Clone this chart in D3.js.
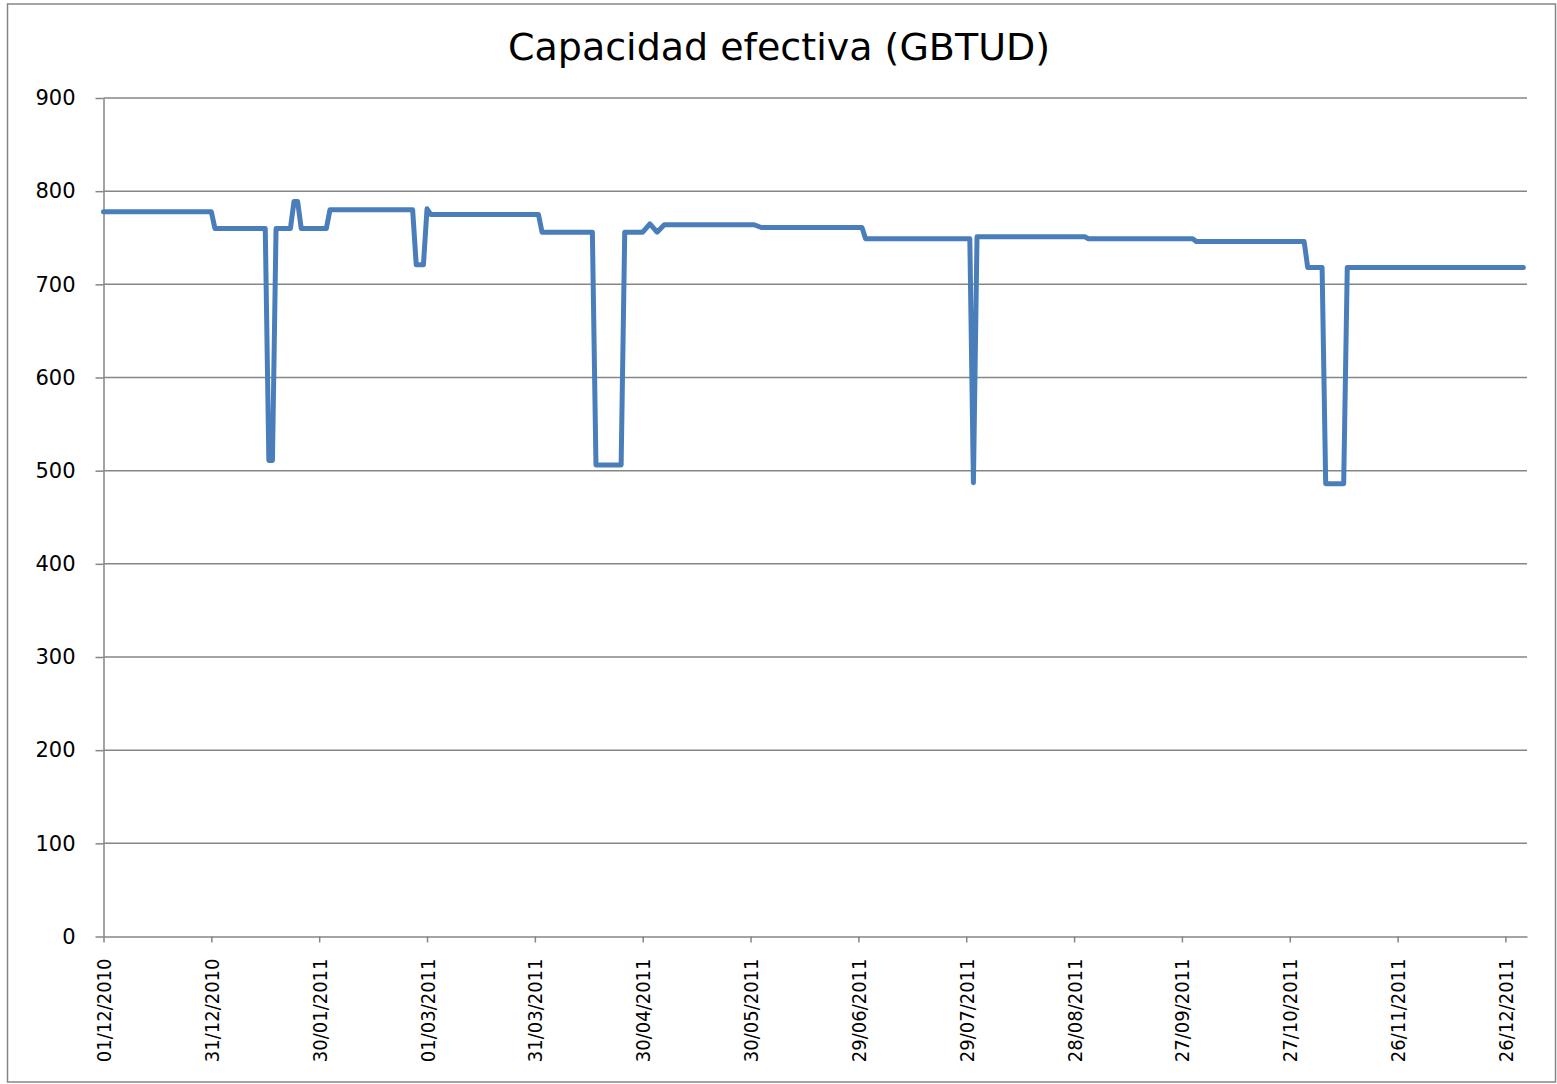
<!DOCTYPE html>
<html>
<head>
<meta charset="utf-8">
<script src="https://cdn.jsdelivr.net/npm/d3@7"></script>
<style>
  body { margin: 0; background: #fff; }
</style>
</head>
<body>
<script>
// chart size, same as the window
let width = 1557, height = 1084

// dates where the line changes (dd/mm/yyyy) and the value at each one
let dates = [
  "01/12/2010", "31/12/2010", "01/01/2011", "15/01/2011", "16/01/2011", "17/01/2011",
  "18/01/2011", "22/01/2011", "23/01/2011", "24/01/2011", "25/01/2011", "01/02/2011",
  "02/02/2011", "25/02/2011", "26/02/2011", "28/02/2011", "01/03/2011", "02/03/2011",
  "01/04/2011", "02/04/2011", "16/04/2011", "17/04/2011", "24/04/2011", "25/04/2011",
  "30/04/2011", "02/05/2011", "04/05/2011", "06/05/2011", "31/05/2011", "02/06/2011",
  "30/06/2011", "01/07/2011", "30/07/2011", "31/07/2011", "01/08/2011", "31/08/2011",
  "01/09/2011", "30/09/2011", "01/10/2011", "31/10/2011", "01/11/2011", "05/11/2011",
  "06/11/2011", "11/11/2011", "12/11/2011", "31/12/2011"
]
let values = [
  778, 778, 760, 760, 511, 511,
  760, 760, 789, 789, 760, 760,
  780, 780, 721, 721, 781, 775,
  775, 756, 756, 506, 506, 756,
  756, 765, 756, 764, 764, 761,
  761, 749, 749, 487, 751, 751,
  749, 749, 746, 746, 718, 718,
  486, 486, 718, 718
]

// x axis labels, one every 30 days
let tickLabels = [
  "01/12/2010", "31/12/2010", "30/01/2011", "01/03/2011", "31/03/2011", "30/04/2011",
  "30/05/2011", "29/06/2011", "29/07/2011", "28/08/2011", "27/09/2011", "27/10/2011",
  "26/11/2011", "26/12/2011"
]
let yTicks = [0, 100, 200, 300, 400, 500, 600, 700, 800, 900]

let parse = d3.utcParse("%d/%m/%Y")
let data = dates.map((d, i) => ({ date: parse(d), value: values[i] }))

let margin = { left: 103.5, right: 1527, top: 98, bottom: 936.5 }

let x = d3.scaleUtc()
  .domain([parse("01/12/2010"), parse("01/01/2012")])
  .range([margin.left, margin.right])

let y = d3.scaleLinear()
  .domain([0, 900])
  .range([margin.bottom, margin.top])

let svg = d3.select("body").append("svg")
  .attr("width", width)
  .attr("height", height)
  .attr("font-family", "'DejaVu Sans', Verdana, sans-serif")

// outer chart border
svg.append("rect")
  .attr("x", 7.5).attr("y", 4)
  .attr("width", 1548).attr("height", 1078)
  .attr("fill", "#fff")
  .attr("stroke", "#868686")
  .attr("stroke-width", 1.5)

// title
svg.append("text")
  .attr("x", 779)
  .attr("y", 60)
  .attr("text-anchor", "middle")
  .attr("font-size", 38)
  .attr("fill", "#000")
  .text("Capacidad efectiva (GBTUD)")

// horizontal gridlines
svg.append("g")
  .selectAll("line")
  .data(yTicks.filter(d => d > 0))
  .join("line")
  .attr("x1", margin.left).attr("x2", margin.right)
  .attr("y1", d => y(d)).attr("y2", d => y(d))
  .attr("stroke", "#868686")
  .attr("stroke-width", 1.5)

// y axis
let yAxis = svg.append("g")
  .attr("transform", `translate(${margin.left},0)`)
  .call(d3.axisLeft(y).tickValues(yTicks).tickSize(8).tickPadding(20).tickSizeOuter(0))
yAxis.select(".domain").attr("stroke", "#868686").attr("stroke-width", 1.5)
yAxis.selectAll(".tick line").attr("stroke", "#868686").attr("stroke-width", 1.5)
yAxis.selectAll("text")
  .attr("font-size", 21)
  .attr("font-family", "'DejaVu Sans', Verdana, sans-serif")
  .attr("fill", "#000")

// x axis
let xAxis = svg.append("g")
  .attr("transform", `translate(0,${margin.bottom})`)
  .call(d3.axisBottom(x)
    .tickValues(tickLabels.map(parse))
    .tickFormat(d3.utcFormat("%d/%m/%Y"))
    .tickSize(6)
    .tickSizeOuter(0))
xAxis.select(".domain").attr("stroke", "#868686").attr("stroke-width", 1.5)
xAxis.selectAll(".tick line").attr("stroke", "#868686").attr("stroke-width", 1.5)
xAxis.selectAll("text")
  .attr("font-size", 20)
  .attr("font-family", "'DejaVu Sans Condensed', 'DejaVu Sans', sans-serif")
  .attr("font-stretch", "condensed")
  .attr("fill", "#000")
  .attr("text-anchor", "end")
  .attr("transform", "rotate(-90)")
  .attr("x", -22)
  .attr("y", 0)
  .attr("dy", "0.35em")

// the series line
let line = d3.line()
  .x(d => x(d.date))
  .y(d => y(d.value))

svg.append("path")
  .datum(data)
  .attr("d", line)
  .attr("fill", "none")
  .attr("stroke", "#4a7ebb")
  .attr("stroke-width", 5)
  .attr("stroke-linejoin", "round")
  .attr("stroke-linecap", "round")
</script>
</body>
</html>
